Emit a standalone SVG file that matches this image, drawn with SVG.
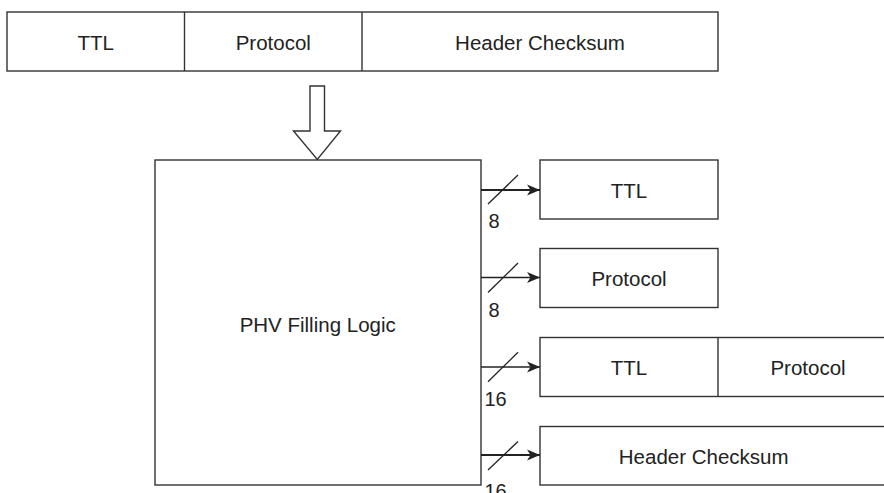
<svg xmlns="http://www.w3.org/2000/svg" width="884" height="493" viewBox="0 0 884 493">
  <style>
    .box { fill: #ffffff; stroke: #333333; stroke-width: 1.4; }
    .sep { stroke: #333333; stroke-width: 1.4; }
    .lbl { font-family: "Liberation Sans", Arial, sans-serif; font-size: 20.5px; fill: #222222; text-anchor: middle; }
    .num { font-family: "Liberation Sans", Arial, sans-serif; font-size: 20px; fill: #222222; }
    .bus { stroke: #222222; fill: none; marker-end: url(#head); }
    .thick { stroke-width: 2.2; }
    .thin { stroke-width: 1.3; }
    .tick { stroke: #222222; stroke-width: 1.3; }
  </style>
  <defs>
    <marker id="head" markerUnits="userSpaceOnUse" markerWidth="14" markerHeight="12" refX="13" refY="6" orient="auto">
      <path d="M0,0.5 L13,6 L0,11.5 L3.5,6 Z" fill="#222222"/>
    </marker>
  </defs>

  <rect width="884" height="493" fill="#ffffff"/>

  <!-- incoming IPv4 header fields -->
  <g id="header-fields">
    <rect class="box" x="7" y="12" width="711" height="59"/>
    <line class="sep" x1="184.5" y1="12" x2="184.5" y2="71"/>
    <line class="sep" x1="362" y1="12" x2="362" y2="71"/>
    <text class="lbl" x="95.7" y="50">TTL</text>
    <text class="lbl" x="273.3" y="50">Protocol</text>
    <text class="lbl" x="540" y="50">Header Checksum</text>
  </g>

  <!-- block arrow into the filling logic -->
  <g id="input-arrow">
    <polygon class="box" points="310,86 324.5,86 324.5,131 340.5,131 317.3,159.5 293.5,131 310,131"/>
  </g>

  <g id="phv-filling-logic">
    <rect class="box" x="155" y="160" width="326" height="325"/>
    <text class="lbl" x="317.7" y="332">PHV Filling Logic</text>
  </g>

  <!-- PHV containers -->
  <g id="phv-ttl">
    <rect class="box" x="540" y="160" width="178" height="59"/>
    <text class="lbl" x="629" y="197.5">TTL</text>
  </g>
  <g id="phv-protocol">
    <rect class="box" x="540" y="248.5" width="178" height="59"/>
    <text class="lbl" x="629" y="285.5">Protocol</text>
  </g>
  <g id="phv-ttl-protocol">
    <rect class="box" x="540" y="337.5" width="358" height="59"/>
    <line class="sep" x1="718" y1="337.5" x2="718" y2="396.5"/>
    <text class="lbl" x="629" y="374.5">TTL</text>
    <text class="lbl" x="808" y="375">Protocol</text>
  </g>
  <g id="phv-checksum">
    <rect class="box" x="540" y="426.5" width="358" height="58.5"/>
    <text class="lbl" x="703.7" y="464">Header Checksum</text>
  </g>

  <!-- buses with width ticks -->
  <g id="connectors">
    <line class="bus thick" x1="481" y1="190" x2="540" y2="190"/>
    <line class="tick" x1="488" y1="204" x2="518" y2="175"/>
    <text class="num" x="488.5" y="228">8</text>

    <line class="bus thin" x1="481" y1="277.5" x2="540" y2="277.5"/>
    <line class="tick" x1="488" y1="292.5" x2="518" y2="263"/>
    <text class="num" x="488.5" y="316.5">8</text>

    <line class="bus thin" x1="481" y1="367" x2="540" y2="367"/>
    <line class="tick" x1="488" y1="381.7" x2="518" y2="352.3"/>
    <text class="num" x="484.5" y="406">16</text>

    <line class="bus thick" x1="481" y1="455" x2="540" y2="455"/>
    <line class="tick" x1="488" y1="470" x2="518" y2="441.5"/>
    <text class="num" x="484.5" y="498">16</text>
  </g>
</svg>
